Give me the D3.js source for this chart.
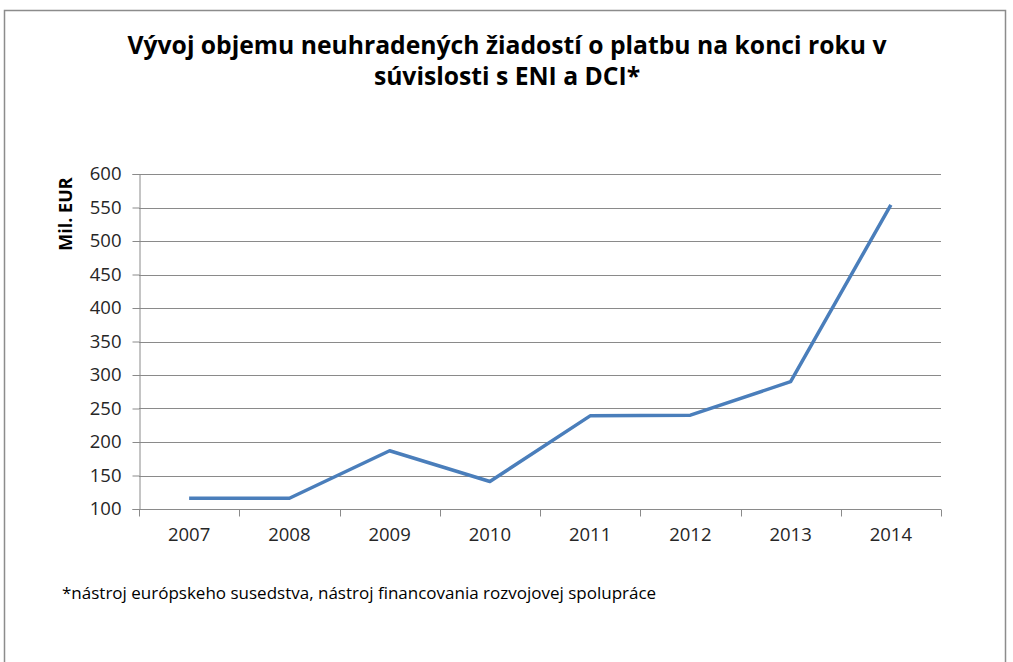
<!DOCTYPE html>
<html lang="sk">
<head>
<meta charset="UTF-8">
<title>Vývoj objemu neuhradených žiadostí</title>
<script src="https://cdnjs.cloudflare.com/ajax/libs/d3/7.8.5/d3.min.js"></script>
<style>
  html, body { margin: 0; padding: 0; background: #fff; }
  svg { display: block; }
</style>
</head>
<body>
<svg id="chart" width="1013" height="662"></svg>
<script>
    // data
    const years = ["2007", "2008", "2009", "2010", "2011", "2012", "2013", "2014"];
    const unpaidValues = [116, 116, 187, 141, 239, 240, 290, 554];
    const yTicks = [100, 150, 200, 250, 300, 350, 400, 450, 500, 550, 600];

    const titleLines = [
        "Vývoj objemu neuhradených žiadostí o platbu na konci roku v",
        "súvislosti s ENI a DCI*"
    ];
    const yLabel = "Mil. EUR";
    const footnote = "*nástroj európskeho susedstva, nástroj financovania rozvojovej spolupráce";

    const svg = d3.select("#chart");
    const plot = { left: 139, right: 941, top: 174, bottom: 509 };

    // outer frame (open at the bottom, like the source crop)
    svg.append("path")
        .attr("d", "M4.5,662 V10.5 H1005.5 V662")
        .attr("fill", "none")
        .attr("stroke", "#8c8c8c")
        .attr("stroke-width", 1.5);

    svg.selectAll(".title")
        .data(titleLines)
        .enter()
        .append("text")
        .attr("class", "title")
        .attr("x", 507)
        .attr("y", (d, i) => 54 + i * 31)
        .attr("text-anchor", "middle")
        .attr("font-family", "'Open Sans', sans-serif")
        .attr("font-weight", "bold")
        .attr("font-size", "24.7px")
        .attr("fill", "#000")
        .text(d => d);

    const xScale = d3.scaleBand()
        .domain(years)
        .range([plot.left, plot.right]);

    const yScale = d3.scaleLinear()
        .domain([100, 600])
        .range([plot.bottom, plot.top]);

    // horizontal gridlines
    svg.append("g")
        .selectAll("line")
        .data(yTicks.filter(t => t !== 100))
        .enter()
        .append("line")
        .attr("x1", plot.left)
        .attr("x2", plot.right)
        .attr("y1", d => Math.round(yScale(d)) + 0.5)
        .attr("y2", d => Math.round(yScale(d)) + 0.5)
        .attr("stroke", "#8a8a8a")
        .attr("stroke-width", 1);

    // y axis
    const yAxis = svg.append("g")
        .attr("transform", `translate(${plot.left + 0.5},0)`)
        .call(d3.axisLeft(yScale).tickValues(yTicks).tickSize(7).tickPadding(11));
    yAxis.select(".domain").attr("stroke", "#8a8a8a");
    yAxis.selectAll(".tick line").attr("stroke", "#8a8a8a");
    yAxis.selectAll(".tick text")
        .attr("font-family", "'Open Sans', sans-serif")
        .attr("font-size", "18.5px")
        .attr("fill", "#262626");

    // x axis: ticks sit between the categories
    const xAxisG = svg.append("g")
        .attr("transform", `translate(0,${plot.bottom + 0.5})`);
    xAxisG.append("line")
        .attr("x1", plot.left)
        .attr("x2", plot.right)
        .attr("stroke", "#8a8a8a");
    xAxisG.selectAll(".boundary")
        .data(years.concat(["end"]))
        .enter()
        .append("line")
        .attr("class", "boundary")
        .attr("x1", (d, i) => Math.round(plot.left + i * xScale.step()) + 0.5)
        .attr("x2", (d, i) => Math.round(plot.left + i * xScale.step()) + 0.5)
        .attr("y1", 0)
        .attr("y2", 7)
        .attr("stroke", "#8a8a8a");
    xAxisG.selectAll(".yearLabel")
        .data(years)
        .enter()
        .append("text")
        .attr("class", "yearLabel")
        .attr("x", d => xScale(d) + xScale.bandwidth() / 2)
        .attr("y", 31)
        .attr("text-anchor", "middle")
        .attr("font-family", "'Open Sans', sans-serif")
        .attr("font-size", "18.5px")
        .attr("fill", "#262626")
        .text(d => d);

    // y axis title
    svg.append("text")
        .attr("transform", "translate(72,214) rotate(-90)")
        .attr("text-anchor", "middle")
        .attr("font-family", "'Open Sans', sans-serif")
        .attr("font-weight", "bold")
        .attr("font-size", "18px")
        .attr("fill", "#000")
        .text(yLabel);

    // the series line
    const lineGen = d3.line()
        .x((d, i) => xScale(years[i]) + xScale.bandwidth() / 2)
        .y(d => yScale(d));

    svg.append("path")
        .datum(unpaidValues)
        .attr("d", lineGen)
        .attr("fill", "none")
        .attr("stroke", "#4a7ebb")
        .attr("stroke-width", 3.5)
        .attr("stroke-linejoin", "round");

    // footnote
    svg.append("text")
        .attr("x", 62)
        .attr("y", 599)
        .attr("font-family", "'Open Sans', sans-serif")
        .attr("font-size", "17px")
        .attr("fill", "#000")
        .text(footnote);
</script>
</body>
</html>
